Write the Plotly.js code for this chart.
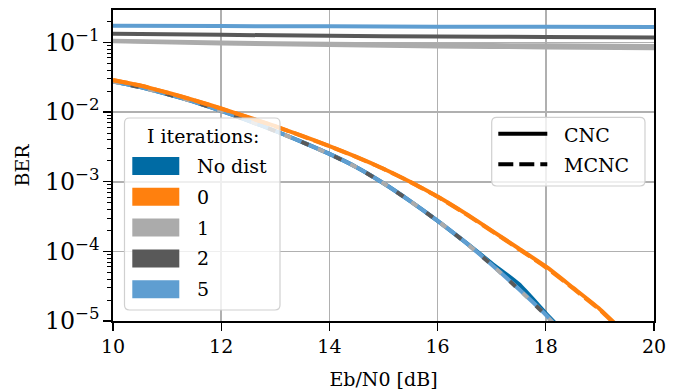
<!DOCTYPE html>
<html>
<head>
<meta charset="utf-8">
<script src="https://cdn.plot.ly/plotly-3.0.1.min.js"></script>
<style>html,body{margin:0;padding:0;background:#fff;}#chart{width:678px;height:391px;}</style>
</head>
<body>
<div id="chart"></div>
<script>
// ---------------- data ----------------
const ebn0 = [10,10.5,11,11.5,12,12.5,13,13.5,14,14.5,15,15.5,16,16.5,17,17.5,18,18.5,19,19.5,20];
const ebn0Coarse = [10,12,14,16,18,20];

// upper (non-converging) curves
const iter5Upper  = [0.174,0.172,0.171,0.169,0.168,0.167];
const iter2Upper  = [0.134,0.129,0.125,0.122,0.120,0.118];
const iter1UpperA = [0.106,0.100,0.096,0.093,0.091,0.089];
const iter1UpperB = [0.104,0.097,0.092,0.088,0.085,0.083];

// lower curves
const noDistCNC  = [0.0275,0.0229,0.0182,0.0141,0.01045,0.00757,0.00536,0.00371,0.00251,0.00162,0.000953,0.000524,0.000275,0.000138,6.76e-5,3.39e-5,1.29e-5,5.0e-6,1.6e-6,5e-7,1.5e-7];
const iter0CNC   = [0.0290,0.0242,0.0192,0.0149,0.0113,0.00847,0.00628,0.00455,0.00326,0.00228,0.00154,0.000995,0.000614,0.000357,0.000199,0.000110,6.07e-5,3.02e-5,1.48e-5,6.3e-6,2.8e-6];
const iter0MCNC  = [0.0288,0.0241,0.0191,0.0148,0.0112,0.00842,0.00624,0.00452,0.00324,0.00226,0.00153,0.000988,0.000608,0.000352,0.000196,0.000108,5.9e-5,2.95e-5,1.44e-5,6.1e-6,2.7e-6];
const iter5Lower = [0.0275,0.0229,0.0182,0.0141,0.01045,0.00757,0.00536,0.00371,0.00251,0.00162,0.000953,0.000524,0.000275,0.000138,6.44e-5,2.88e-5,1.23e-5,4.7e-6,1.6e-6,5e-7,1.5e-7];
const iter1Lower = [0.0274,0.0228,0.0181,0.0140,0.01040,0.00754,0.00534,0.00369,0.00250,0.00161,0.000950,0.000522,0.000274,0.000137,6.40e-5,2.85e-5,1.20e-5,4.5e-6,1.5e-6,5e-7,1.5e-7];
const iter2Lower = [0.0274,0.0228,0.0181,0.0140,0.01040,0.00754,0.00534,0.00369,0.00250,0.00161,0.000950,0.000522,0.000274,0.000137,6.40e-5,2.85e-5,1.21e-5,4.6e-6,1.5e-6,5e-7,1.5e-7];

// legend labels
const iterLabels = ['No dist','0','1','2','5'];
const iterColors = ['#006BA4','#FF800E','#ABABAB','#595959','#5F9ED1'];
const styleLabels = ['CNC','MCNC'];
const legendTitle = 'I iterations:';

// ---------------- traces ----------------
const LW = 4;
function tr(x, y, color, dash, name){
  return {x:x, y:y, type:'scatter', mode:'lines', name:name, showlegend:false,
          line:{color:color, width:LW, dash:dash||'solid', shape:'spline', smoothing:0.6}, hoverinfo:'skip'};
}
const traces = [
  tr(ebn0Coarse, iter1UpperB, iterColors[2], 'solid', '1 upper b'),
  tr(ebn0Coarse, iter1UpperA, iterColors[2], 'solid', '1 upper a'),
  tr(ebn0Coarse, iter2Upper, iterColors[3], 'solid', '2 upper'),
  tr(ebn0Coarse, iter5Upper, iterColors[4], 'solid', '5 upper'),
  tr(ebn0, noDistCNC, iterColors[0], 'solid', 'No dist CNC'),
  tr(ebn0, iter5Lower, iterColors[4], 'solid', '5 lower'),
  tr(ebn0, iter1Lower, iterColors[2], '7px,29px', '1 lower'),
  tr(ebn0, iter2Lower, iterColors[3], '0px,18px,8px,10px', '2 lower'),
  tr(ebn0, iter0CNC, iterColors[1], 'solid', '0 CNC'),
  tr(ebn0, iter0MCNC, iterColors[1], '15px,6px', '0 MCNC')
];

// ---------------- layout helpers (pixel -> paper) ----------------
const W = 678, H = 391, ML = 113, MR = 24, MT = 10, MB = 70;
const PW = W - ML - MR, PH = H - MT - MB;
const px = v => (v - ML) / PW;
const py = v => (H - MB - v) / PH;
function roundBox(x0, y0, x1, y1, r){
  const rx = r / PW, ry = r / PH;
  const a = px(x0), b = px(x1), t = py(y0), u = py(y1);
  return `M${a+rx},${t} L${b-rx},${t} Q${b},${t} ${b},${t-ry} L${b},${u+ry} Q${b},${u} ${b-rx},${u} L${a+rx},${u} Q${a},${u} ${a},${u+ry} L${a},${t-ry} Q${a},${t} ${a+rx},${t} Z`;
}
const FONT = 'DejaVu Serif, Liberation Serif, serif';
const FS = 19;

const shapes = [];
const annotations = [];
// legend 1
shapes.push({type:'path', xref:'paper', yref:'paper', path:roundBox(124.5,118,280,310,5),
  fillcolor:'rgba(255,255,255,0.8)', line:{color:'#d0d0d0', width:1.2}, layer:'above'});
annotations.push({xref:'paper', yref:'paper', x:px(202.5), y:py(136), text:legendTitle, showarrow:false,
  xanchor:'center', yanchor:'middle', font:{family:FONT, size:FS, color:'#000'}});
const rowY = [166, 196.8, 227.6, 258.4, 289.2];
iterLabels.forEach((lab, i) => {
  shapes.push({type:'rect', xref:'paper', yref:'paper', x0:px(132.3), x1:px(179.3), y0:py(rowY[i]-9), y1:py(rowY[i]+9),
    fillcolor:iterColors[i], line:{width:0}, layer:'above'});
  annotations.push({xref:'paper', yref:'paper', x:px(195), y:py(rowY[i]), text:lab, showarrow:false,
    xanchor:'left', yanchor:'middle', font:{family:FONT, size:FS, color:'#000'}});
});
// legend 2
shapes.push({type:'path', xref:'paper', yref:'paper', path:roundBox(491.7,117.3,645,186,5),
  fillcolor:'rgba(255,255,255,0.8)', line:{color:'#d0d0d0', width:1.2}, layer:'above'});
const row2Y = [133.7, 164.3];
const dashes = ['solid','15px,6px'];
styleLabels.forEach((lab, i) => {
  shapes.push({type:'line', xref:'paper', yref:'paper', x0:px(498.3), x1:px(547.3), y0:py(row2Y[i]), y1:py(row2Y[i]),
    line:{color:'#000', width:LW, dash:dashes[i]}, layer:'above'});
  annotations.push({xref:'paper', yref:'paper', x:px(561.5), y:py(row2Y[i]+1), text:lab, showarrow:false,
    xanchor:'left', yanchor:'middle', font:{family:FONT, size:FS, color:'#000'}});
});

const axisCommon = {
  showline:true, linecolor:'#000', linewidth:1.6, mirror:true,
  ticks:'outside', ticklen:8, tickwidth:1.4, tickcolor:'#000',
  showgrid:true, gridcolor:'#b0b0b0', gridwidth:1.6, zeroline:false,
  tickfont:{family:FONT, size:FS, color:'#000'}
};

const layout = {
  width:W, height:H, margin:{l:ML, r:MR, t:MT, b:MB},
  paper_bgcolor:'#fff', plot_bgcolor:'#fff', showlegend:false,
  font:{family:FONT, size:FS, color:'#000'},
  xaxis:Object.assign({}, axisCommon, {range:[10,20], dtick:2, tick0:10,
    title:{text:'Eb/N0 [dB]', font:{family:FONT, size:FS, color:'#000'}, standoff:16}}),
  yaxis:Object.assign({}, axisCommon, {type:'log', range:[-5,-0.533], dtick:1, exponentformat:'power',
    minor:{ticks:'outside', ticklen:4, tickwidth:1, tickcolor:'#000', showgrid:false, dtick:'D1'},
    title:{text:'BER', font:{family:FONT, size:FS, color:'#000'}, standoff:10}}),
  shapes:shapes, annotations:annotations
};

Plotly.newPlot('chart', traces, layout, {staticPlot:true, displayModeBar:false});
</script>
</body>
</html>
